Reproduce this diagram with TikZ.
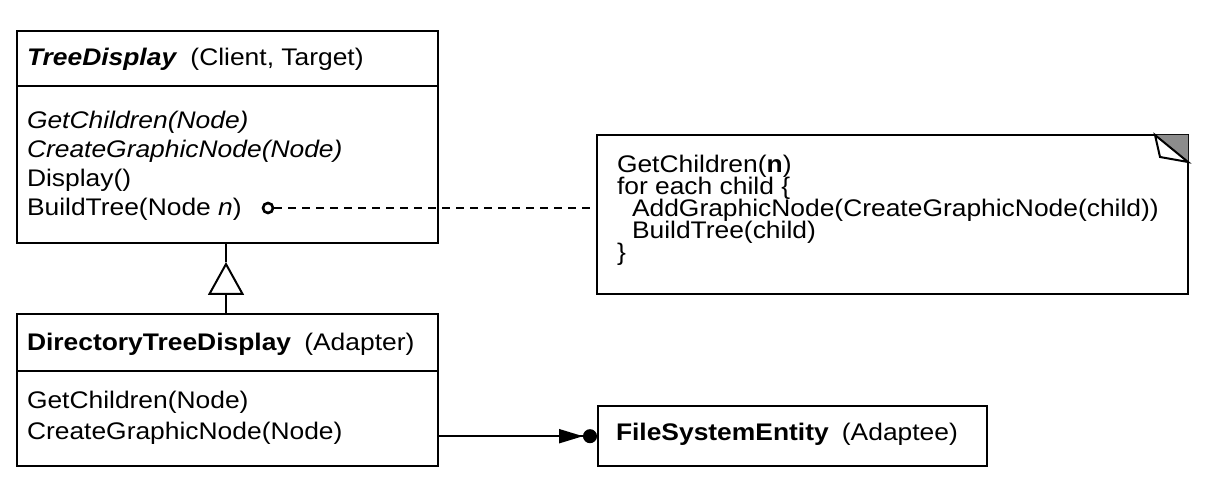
\documentclass[tikz,border=0pt]{standalone}
\usepackage{fontspec}
\setmainfont{Liberation Sans}[FakeStretch=1.1]
\usetikzlibrary{arrows.meta}

\newcommand\opsfont{\fontsize{12}{14.5}\selectfont\lineskiplimit=-20pt\relax}
\newcommand\dtdfont{\fontsize{12}{15.5}\selectfont\lineskiplimit=-20pt\relax}
\newcommand\codefont{\fontsize{12}{11}\selectfont\lineskiplimit=-20pt\relax}

\tikzset{
  classbox/.style={draw, line width=1.2pt, anchor=north west, inner sep=0pt},
  classtext/.style={anchor=west, inner sep=0pt, align=left, font=\opsfont},
  codetext/.style={anchor=west, inner sep=0pt, align=left, font=\codefont},
}

\begin{document}
\begin{tikzpicture}[x=0.5pt, y=-0.5pt, line width=1pt]
  \useasboundingbox (0,0) rectangle (1222,502);

  % TreeDisplay
  \node[classbox, minimum width=210.5pt, minimum height=106pt] (td) at (16,30) {};
  \draw[line width=1.2pt] (16,86) -- (437,86);
  \node[classtext] (tdname) at (26,59) {\textbf{\textit{TreeDisplay}}\hspace{0.55em}(Client, Target)};
  \node[classtext] (tdops) at (26,166) {\textit{GetChildren(Node)}\\ \textit{CreateGraphicNode(Node)}\\ Display()\\ BuildTree(Node \textit{n})};
  \node[draw, circle, inner sep=0pt, minimum size=5pt, line width=1.3pt] (hook) at (268,208) {};

  % DirectoryTreeDisplay
  \node[classbox, minimum width=210.5pt, minimum height=76pt] (dtd) at (16,313) {};
  \draw[line width=1.2pt] (16,371) -- (437,371);
  \node[classtext] (dtdname) at (26,344) {\textbf{DirectoryTreeDisplay}\hspace{0.55em}(Adapter)};
  \node[classtext, font=\dtdfont] (dtdops) at (26,418) {GetChildren(Node)\\ CreateGraphicNode(Node)};

  % FileSystemEntity
  \node[classbox, minimum width=194.5pt, minimum height=30pt] (fse) at (597,405) {};
  \node[classtext] (fsename) at (615,434) {\textbf{FileSystemEntity}\hspace{0.55em}(Adaptee)};

  % note
  \node[anchor=north west, minimum width=294.5pt, minimum height=78.5pt, inner sep=0pt] (note) at (597,135) {};
  \draw[line width=1.2pt] (note.north west) rectangle (note.south east);
  \fill[black!45] ([xshift=-16.5pt]note.north east) -- (note.north east) -- ([yshift=-13.5pt]note.north east) -- cycle;
  \draw[fill=white] ([xshift=-16.5pt]note.north east) -- ([yshift=-13.5pt]note.north east) -- ([xshift=-14pt,yshift=-11pt]note.north east) -- cycle;
  \node[codetext] (notecode) at (616,210) {GetChildren(\textbf{n})\\ for each child \{\\ \hspace*{7.5pt}AddGraphicNode(CreateGraphicNode(child))\\ \hspace*{7.5pt}BuildTree(child)\\ \}};

  % connectors
  \coordinate (apex) at (226,262);
  \draw[-{Triangle[open, length=16.5pt, width=18pt]}] (dtd.north -| apex) -- (apex);
  \draw (apex) -- (td.south -| apex);
  \draw[dash pattern=on 4pt off 3pt] (hook) -- (hook -| note.west);
  \draw[-{Triangle[length=12pt, width=7pt]Circle[length=7pt]}] (dtd.east |- fse.west) -- (fse.west);
\end{tikzpicture}
\end{document}
